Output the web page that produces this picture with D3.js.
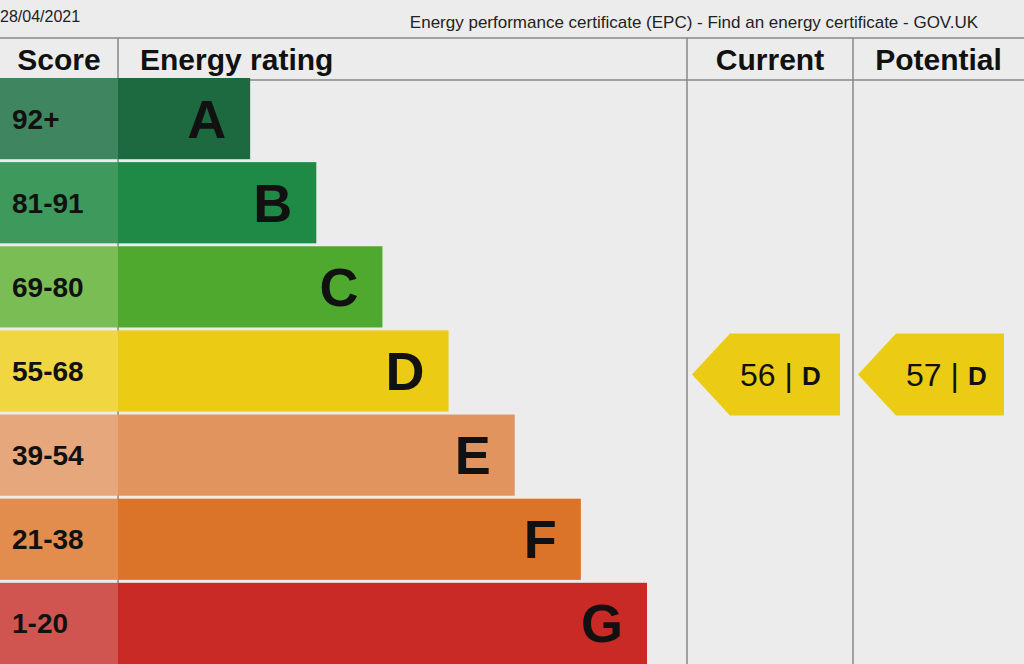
<!DOCTYPE html>
<html><head><meta charset="utf-8">
<script src="https://cdn.jsdelivr.net/npm/d3@7/dist/d3.min.js"></script>
<style>body{margin:0;background:#ebebeb;}svg{display:block}</style>
</head><body>
<svg id="c" width="1024" height="664"></svg>
<script>
const ratings = ["A","B","C","D","E","F","G"];
const scores = ["92+","81-91","69-80","55-68","39-54","21-38","1-20"];
const levels = [1,2,3,4,5,6,7];
const barColors = ["#1d6a40","#1f8a45","#4ea92e","#eccb14","#e2945e","#db7428","#ca2a26"];
const scoreColors = ["#3f8660","#3e9a5c","#7bbd55","#f0d640","#e6a77c","#e28c4e","#d05550"];
const current = {value:56, rating:"D"};
const potential = {value:57, rating:"D"};
const headers = ["Score","Energy rating","Current","Potential"];

const svg = d3.select("#c");
const font = "Liberation Sans, Arial, sans-serif";
svg.append("rect").attr("width",1024).attr("height",664).attr("fill","#ececec");

svg.append("text").attr("x",0).attr("y",22).attr("font-family",font).attr("font-size",16).attr("fill","#222").text("28/04/2021");
svg.append("text").attr("x",978).attr("y",28).attr("text-anchor","end").attr("font-family",font).attr("font-size",17).attr("fill","#222").text("Energy performance certificate (EPC) - Find an energy certificate - GOV.UK");

const y = d3.scaleBand().domain(ratings).range([78,664]).paddingInner(0.035);
const x = d3.scaleLinear().domain([0,7]).range([184,647]);
const colX = [0,118,687,853,1024];

const g = svg.append("g");
g.append("line").attr("x1",0).attr("x2",1024).attr("y1",38).attr("y2",38).attr("stroke","#888").attr("stroke-width",1.5);
g.append("line").attr("x1",0).attr("x2",1024).attr("y1",80).attr("y2",80).attr("stroke","#888").attr("stroke-width",1.5);
[118,687,853].forEach(cx=>g.append("line").attr("x1",cx).attr("x2",cx).attr("y1",38).attr("y2",664).attr("stroke","#888").attr("stroke-width",1.5));

headers.forEach((h,i)=>{
  svg.append("text").attr("x",i===1?140:(colX[i]+colX[i+1])/2).attr("y",70)
    .attr("text-anchor",i===1?"start":"middle").attr("font-family",font).attr("font-weight","bold")
    .attr("font-size",30).attr("fill","#111").text(h);
});

const rows = svg.append("g").selectAll("g").data(ratings).join("g");
rows.append("rect").attr("x",0).attr("width",118).attr("y",d=>y(d)).attr("height",y.bandwidth())
  .attr("fill",(d,i)=>scoreColors[i]);
rows.append("rect").attr("x",118).attr("width",(d,i)=>x(levels[i])-118).attr("y",d=>y(d)).attr("height",y.bandwidth())
  .attr("fill",(d,i)=>barColors[i]);
rows.append("text").attr("x",12).attr("y",d=>y(d)+y.bandwidth()/2+10).attr("font-family",font)
  .attr("font-weight","bold").attr("font-size",28).attr("fill","#111").text((d,i)=>scores[i]);
rows.append("text").attr("x",(d,i)=>x(levels[i])-24).attr("y",d=>y(d)+y.bandwidth()/2+19).attr("text-anchor","end")
  .attr("font-family",font).attr("font-weight","bold").attr("font-size",54).attr("fill","#111").text(d=>d);

function arrow(x0,x1,obj){
  const r = obj.rating, yt=y(r)+3, yb=y(r)+y.bandwidth()+4, ym=(yt+yb)/2;
  const i = ratings.indexOf(r);
  svg.append("path").attr("d",`M${x0},${ym}L${x0+38},${yt}L${x1},${yt}L${x1},${yb}L${x0+38},${yb}Z`).attr("fill",barColors[i]);
  svg.append("text").attr("x",x0+48).attr("y",ym+11).attr("font-family",font).attr("font-size",32).attr("fill","#111").text(obj.value+" |");
  svg.append("text").attr("x",x0+110).attr("y",ym+10).attr("font-family",font).attr("font-weight","bold").attr("font-size",26).attr("fill","#111").text(r);
}
arrow(692,840,current);
arrow(858,1004,potential);
</script>
</body></html>
